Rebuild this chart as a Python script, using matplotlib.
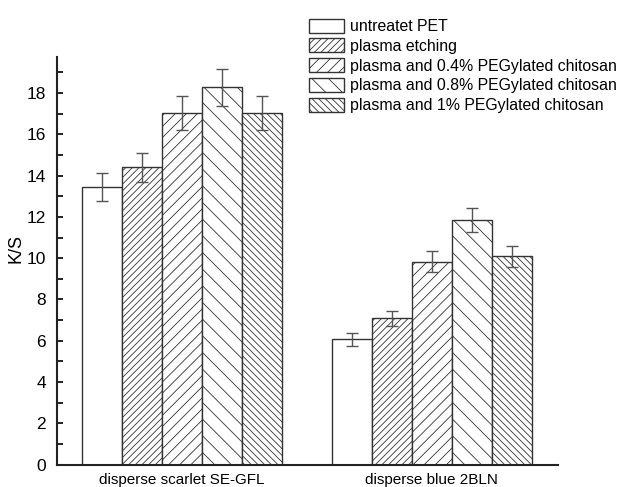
import matplotlib.pyplot as plt
import numpy as np
from matplotlib.ticker import MultipleLocator

plt.rcParams['font.family'] = ['Liberation Sans', 'DejaVu Sans']
plt.rcParams['hatch.linewidth'] = 0.6
plt.rcParams['hatch.color'] = '#222222'

# data
dyes = ['disperse scarlet SE-GFL', 'disperse blue 2BLN']
treatments = ['untreatet PET', 'plasma etching',
              'plasma and 0.4% PEGylated chitosan',
              'plasma and 0.8% PEGylated chitosan',
              'plasma and 1% PEGylated chitosan']
ks_scarlet = [13.45, 14.40, 17.02, 18.28, 17.02]
err_scarlet = [0.66, 0.72, 0.83, 0.91, 0.83]
ks_blue = [6.07, 7.09, 9.83, 11.85, 10.09]
err_blue = [0.32, 0.36, 0.50, 0.60, 0.50]

hatches = ['', '/////', '///', '\\\\', '\\\\\\\\\\']

fig = plt.figure(figsize=(6.2, 4.87), dpi=100)
ax = fig.add_axes([0.092, 0.046, 0.808, 0.837])

x = np.arange(len(dyes))
w = 0.16
for i, name in enumerate(treatments):
    vals = [ks_scarlet[i], ks_blue[i]]
    errs = [err_scarlet[i], err_blue[i]]
    pos = x + (i - 2) * w
    ax.bar(pos, vals, width=w, facecolor='white', edgecolor='#333333',
           linewidth=1.0, hatch=hatches[i], label=name, zorder=2)
    ax.errorbar(pos, vals, yerr=errs, fmt='none', ecolor='#555555',
                elinewidth=1.0, capsize=4, capthick=1.0, zorder=3)

ax.set_xlim(-0.5, 1.505)
ax.set_ylim(0, 19.75)
ax.set_xticks(x)
ax.set_xticklabels(dyes, fontsize=11)
ax.tick_params(axis='x', length=0, pad=6)
ax.yaxis.set_major_locator(MultipleLocator(2))
ax.yaxis.set_minor_locator(MultipleLocator(1))
ax.tick_params(axis='y', which='both', direction='in', length=4, width=1.2,
               labelsize=12.5, pad=8)
ax.set_ylabel('K/S', fontsize=13)
ax.yaxis.set_label_coords(-0.064, 0.53)

for s in ['top', 'right']:
    ax.spines[s].set_visible(False)
for s in ['left', 'bottom']:
    ax.spines[s].set_linewidth(1.5)
    ax.spines[s].set_color('#222222')

leg = fig.legend(loc='upper left', bbox_to_anchor=(0.488, 0.975), frameon=False,
                 fontsize=11.4, handlelength=2.2, handleheight=1.0,
                 handletextpad=0.4, labelspacing=0.27, borderaxespad=0)

fig.savefig('out.png', dpi=100)
